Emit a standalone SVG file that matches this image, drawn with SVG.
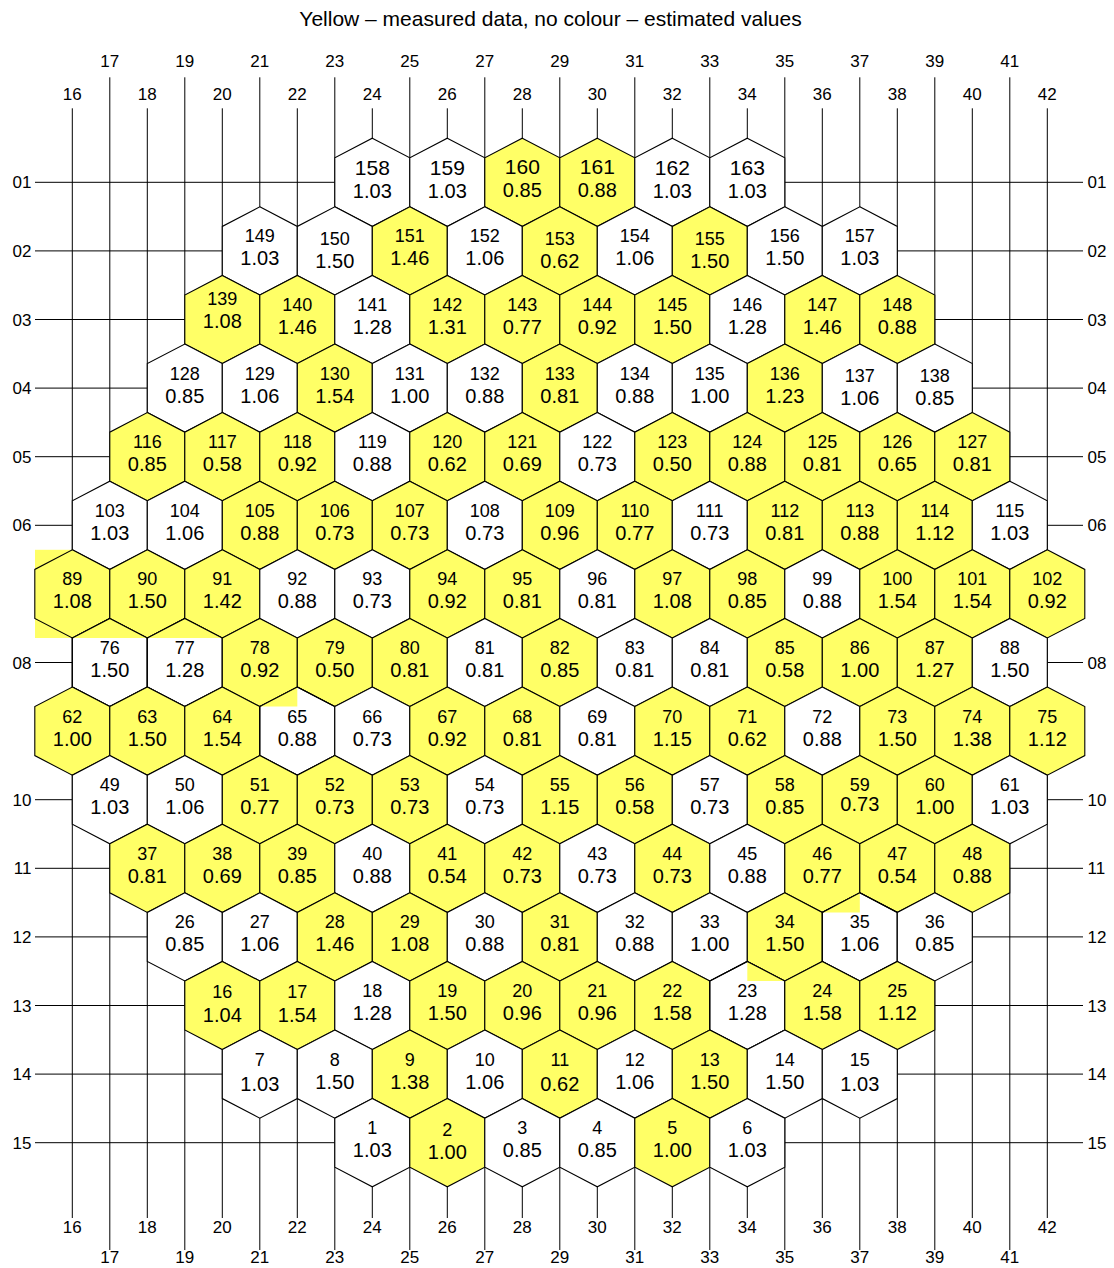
<svg xmlns="http://www.w3.org/2000/svg" xmlns:xlink="http://www.w3.org/1999/xlink" width="1114" height="1268" viewBox="0 0 1114 1268">
<style>
.h{stroke:#000;stroke-width:1.1}
.w{fill:#fff}
.y{fill:#ffff66}
.o{fill:none}
.a{fill:#ffff66;stroke:none}
.l{stroke:#000;stroke-width:1;fill:none}
text{font-family:"Liberation Sans",Arial,sans-serif;fill:#000;text-anchor:middle}
.i{font-size:18px}
.i1{font-size:21px}
.v{font-size:20px}
.ax{font-size:17px}
.t{font-size:21px}
.e{text-anchor:end}
.s{text-anchor:start}
</style>
<defs>
<path id="hx" d="M0,-44.1L37.5,-24.5L37.5,24.5L0,44.1L-37.5,24.5L-37.5,-24.5Z"/>
</defs>
<rect width="1114" height="1268" fill="#fff"/>
<text class="t" x="550.5" y="25.5">Yellow – measured data, no colour – estimated values</text>
<g id="connectors" class="l">
<path d="M109.8,77.3V1250M184.8,77.3V1250M259.8,77.3V1250M334.8,77.3V1250M409.8,77.3V1250M484.8,77.3V1250M559.8,77.3V1250M634.8,77.3V1250M709.8,77.3V1250M784.8,77.3V1250M859.8,77.3V1250M934.8,77.3V1250M1009.8,77.3V1250"/>
<path d="M72.3,108.3V1218M147.3,108.3V1218M222.3,108.3V1218M297.3,108.3V1218M372.3,108.3V1218M447.3,108.3V1218M522.3,108.3V1218M597.3,108.3V1218M672.3,108.3V1218M747.3,108.3V1218M822.3,108.3V1218M897.3,108.3V1218M972.3,108.3V1218M1047.3,108.3V1218"/>
<path d="M35,182.3H1083M35,250.9H1083M35,319.5H1083M35,388.1H1083M35,456.7H1083M35,525.3H1083M35,662.5H1083M35,799.7H1083M35,868.3H1083M35,936.9H1083M35,1005.5H1083M35,1074.1H1083M35,1142.7H1083"/>
</g>
<g id="axis-labels" class="ax">
<text x="109.8" y="67">17</text><text x="184.8" y="67">19</text><text x="259.8" y="67">21</text><text x="334.8" y="67">23</text><text x="409.8" y="67">25</text><text x="484.8" y="67">27</text><text x="559.8" y="67">29</text><text x="634.8" y="67">31</text><text x="709.8" y="67">33</text><text x="784.8" y="67">35</text><text x="859.8" y="67">37</text><text x="934.8" y="67">39</text><text x="1009.8" y="67">41</text>
<text x="72.3" y="99.5">16</text><text x="147.3" y="99.5">18</text><text x="222.3" y="99.5">20</text><text x="297.3" y="99.5">22</text><text x="372.3" y="99.5">24</text><text x="447.3" y="99.5">26</text><text x="522.3" y="99.5">28</text><text x="597.3" y="99.5">30</text><text x="672.3" y="99.5">32</text><text x="747.3" y="99.5">34</text><text x="822.3" y="99.5">36</text><text x="897.3" y="99.5">38</text><text x="972.3" y="99.5">40</text><text x="1047.3" y="99.5">42</text>
<text x="72.3" y="1233">16</text><text x="147.3" y="1233">18</text><text x="222.3" y="1233">20</text><text x="297.3" y="1233">22</text><text x="372.3" y="1233">24</text><text x="447.3" y="1233">26</text><text x="522.3" y="1233">28</text><text x="597.3" y="1233">30</text><text x="672.3" y="1233">32</text><text x="747.3" y="1233">34</text><text x="822.3" y="1233">36</text><text x="897.3" y="1233">38</text><text x="972.3" y="1233">40</text><text x="1047.3" y="1233">42</text>
<text x="109.8" y="1263">17</text><text x="184.8" y="1263">19</text><text x="259.8" y="1263">21</text><text x="334.8" y="1263">23</text><text x="409.8" y="1263">25</text><text x="484.8" y="1263">27</text><text x="559.8" y="1263">29</text><text x="634.8" y="1263">31</text><text x="709.8" y="1263">33</text><text x="784.8" y="1263">35</text><text x="859.8" y="1263">37</text><text x="934.8" y="1263">39</text><text x="1009.8" y="1263">41</text>
<g class="e"><text class="e" x="31.5" y="188.3">01</text><text class="e" x="31.5" y="256.9">02</text><text class="e" x="31.5" y="325.5">03</text><text class="e" x="31.5" y="394.1">04</text><text class="e" x="31.5" y="462.7">05</text><text class="e" x="31.5" y="531.3">06</text><text class="e" x="31.5" y="668.5">08</text><text class="e" x="31.5" y="805.7">10</text><text class="e" x="31.5" y="874.3">11</text><text class="e" x="31.5" y="942.9">12</text><text class="e" x="31.5" y="1011.5">13</text><text class="e" x="31.5" y="1080.1">14</text><text class="e" x="31.5" y="1148.7">15</text></g>
<g><text class="s" x="1087.5" y="188.3">01</text><text class="s" x="1087.5" y="256.9">02</text><text class="s" x="1087.5" y="325.5">03</text><text class="s" x="1087.5" y="394.1">04</text><text class="s" x="1087.5" y="462.7">05</text><text class="s" x="1087.5" y="531.3">06</text><text class="s" x="1087.5" y="668.5">08</text><text class="s" x="1087.5" y="805.7">10</text><text class="s" x="1087.5" y="874.3">11</text><text class="s" x="1087.5" y="942.9">12</text><text class="s" x="1087.5" y="1011.5">13</text><text class="s" x="1087.5" y="1080.1">14</text><text class="s" x="1087.5" y="1148.7">15</text></g>
</g>
<rect class="a" x="35" y="549.8" width="37.3" height="88.2"/>
<g id="cells">
<g id="h158" transform="translate(372.3,182.3)"><use href="#hx" class="h w"/><text class="i1" y="-7">158</text><text class="v" y="16">1.03</text></g>
<g id="h159" transform="translate(447.3,182.3)"><use href="#hx" class="h w"/><text class="i1" y="-7">159</text><text class="v" y="16">1.03</text></g>
<g id="h160" transform="translate(522.3,182.3)"><use href="#hx" class="h y"/><text class="i1" y="-8">160</text><text class="v" y="14.5">0.85</text></g>
<g id="h161" transform="translate(597.3,182.3)"><use href="#hx" class="h y"/><text class="i1" y="-8">161</text><text class="v" y="14.5">0.88</text></g>
<g id="h162" transform="translate(672.3,182.3)"><use href="#hx" class="h w"/><text class="i1" y="-7">162</text><text class="v" y="16">1.03</text></g>
<g id="h163" transform="translate(747.3,182.3)"><use href="#hx" class="h w"/><text class="i1" y="-7">163</text><text class="v" y="16">1.03</text></g>

<g id="h149" transform="translate(259.8,250.9)"><use href="#hx" class="h w"/><text class="i" y="-8.5">149</text><text class="v" y="14.5">1.03</text></g>
<g id="h150" transform="translate(334.8,250.9)"><use href="#hx" class="h w"/><text class="i" y="-6">150</text><text class="v" y="17">1.50</text></g>
<g id="h151" transform="translate(409.8,250.9)"><use href="#hx" class="h y"/><text class="i" y="-8.5">151</text><text class="v" y="14.5">1.46</text></g>
<g id="h152" transform="translate(484.8,250.9)"><use href="#hx" class="h w"/><text class="i" y="-8.5">152</text><text class="v" y="14.5">1.06</text></g>
<g id="h153" transform="translate(559.8,250.9)"><use href="#hx" class="h y"/><text class="i" y="-6">153</text><text class="v" y="17">0.62</text></g>
<g id="h154" transform="translate(634.8,250.9)"><use href="#hx" class="h w"/><text class="i" y="-8.5">154</text><text class="v" y="14.5">1.06</text></g>
<g id="h155" transform="translate(709.8,250.9)"><use href="#hx" class="h y"/><text class="i" y="-6">155</text><text class="v" y="17">1.50</text></g>
<g id="h156" transform="translate(784.8,250.9)"><use href="#hx" class="h w"/><text class="i" y="-8.5">156</text><text class="v" y="14.5">1.50</text></g>
<g id="h157" transform="translate(859.8,250.9)"><use href="#hx" class="h w"/><text class="i" y="-8.5">157</text><text class="v" y="14.5">1.03</text></g>

<g id="h139" transform="translate(222.3,319.5)"><use href="#hx" class="h y"/><text class="i" y="-15">139</text><text class="v" y="8">1.08</text></g>
<g id="h140" transform="translate(297.3,319.5)"><use href="#hx" class="h y"/><text class="i" y="-8.5">140</text><text class="v" y="14.5">1.46</text></g>
<g id="h141" transform="translate(372.3,319.5)"><use href="#hx" class="h w"/><text class="i" y="-8.5">141</text><text class="v" y="14.5">1.28</text></g>
<g id="h142" transform="translate(447.3,319.5)"><use href="#hx" class="h y"/><text class="i" y="-8.5">142</text><text class="v" y="14.5">1.31</text></g>
<g id="h143" transform="translate(522.3,319.5)"><use href="#hx" class="h y"/><text class="i" y="-8.5">143</text><text class="v" y="14.5">0.77</text></g>
<g id="h144" transform="translate(597.3,319.5)"><use href="#hx" class="h y"/><text class="i" y="-8.5">144</text><text class="v" y="14.5">0.92</text></g>
<g id="h145" transform="translate(672.3,319.5)"><use href="#hx" class="h y"/><text class="i" y="-8.5">145</text><text class="v" y="14.5">1.50</text></g>
<g id="h146" transform="translate(747.3,319.5)"><use href="#hx" class="h w"/><text class="i" y="-8.5">146</text><text class="v" y="14.5">1.28</text></g>
<g id="h147" transform="translate(822.3,319.5)"><use href="#hx" class="h y"/><text class="i" y="-8.5">147</text><text class="v" y="14.5">1.46</text></g>
<g id="h148" transform="translate(897.3,319.5)"><use href="#hx" class="h y"/><text class="i" y="-8.5">148</text><text class="v" y="14.5">0.88</text></g>

<g id="h128" transform="translate(184.8,388.1)"><use href="#hx" class="h w"/><text class="i" y="-8.5">128</text><text class="v" y="14.5">0.85</text></g>
<g id="h129" transform="translate(259.8,388.1)"><use href="#hx" class="h w"/><text class="i" y="-8.5">129</text><text class="v" y="14.5">1.06</text></g>
<g id="h130" transform="translate(334.8,388.1)"><use href="#hx" class="h y"/><text class="i" y="-8.5">130</text><text class="v" y="14.5">1.54</text></g>
<g id="h131" transform="translate(409.8,388.1)"><use href="#hx" class="h w"/><text class="i" y="-8.5">131</text><text class="v" y="14.5">1.00</text></g>
<g id="h132" transform="translate(484.8,388.1)"><use href="#hx" class="h w"/><text class="i" y="-8.5">132</text><text class="v" y="14.5">0.88</text></g>
<g id="h133" transform="translate(559.8,388.1)"><use href="#hx" class="h y"/><text class="i" y="-8.5">133</text><text class="v" y="14.5">0.81</text></g>
<g id="h134" transform="translate(634.8,388.1)"><use href="#hx" class="h w"/><text class="i" y="-8.5">134</text><text class="v" y="14.5">0.88</text></g>
<g id="h135" transform="translate(709.8,388.1)"><use href="#hx" class="h w"/><text class="i" y="-8.5">135</text><text class="v" y="14.5">1.00</text></g>
<g id="h136" transform="translate(784.8,388.1)"><use href="#hx" class="h y"/><text class="i" y="-8.5">136</text><text class="v" y="14.5">1.23</text></g>
<g id="h137" transform="translate(859.8,388.1)"><use href="#hx" class="h w"/><text class="i" y="-6">137</text><text class="v" y="17">1.06</text></g>
<g id="h138" transform="translate(934.8,388.1)"><use href="#hx" class="h w"/><text class="i" y="-6">138</text><text class="v" y="17">0.85</text></g>

<g id="h116" transform="translate(147.3,456.7)"><use href="#hx" class="h y"/><text class="i" y="-8.5">116</text><text class="v" y="14.5">0.85</text></g>
<g id="h117" transform="translate(222.3,456.7)"><use href="#hx" class="h y"/><text class="i" y="-8.5">117</text><text class="v" y="14.5">0.58</text></g>
<g id="h118" transform="translate(297.3,456.7)"><use href="#hx" class="h y"/><text class="i" y="-8.5">118</text><text class="v" y="14.5">0.92</text></g>
<g id="h119" transform="translate(372.3,456.7)"><use href="#hx" class="h w"/><text class="i" y="-8.5">119</text><text class="v" y="14.5">0.88</text></g>
<g id="h120" transform="translate(447.3,456.7)"><use href="#hx" class="h y"/><text class="i" y="-8.5">120</text><text class="v" y="14.5">0.62</text></g>
<g id="h121" transform="translate(522.3,456.7)"><use href="#hx" class="h y"/><text class="i" y="-8.5">121</text><text class="v" y="14.5">0.69</text></g>
<g id="h122" transform="translate(597.3,456.7)"><use href="#hx" class="h w"/><text class="i" y="-8.5">122</text><text class="v" y="14.5">0.73</text></g>
<g id="h123" transform="translate(672.3,456.7)"><use href="#hx" class="h y"/><text class="i" y="-8.5">123</text><text class="v" y="14.5">0.50</text></g>
<g id="h124" transform="translate(747.3,456.7)"><use href="#hx" class="h y"/><text class="i" y="-8.5">124</text><text class="v" y="14.5">0.88</text></g>
<g id="h125" transform="translate(822.3,456.7)"><use href="#hx" class="h y"/><text class="i" y="-8.5">125</text><text class="v" y="14.5">0.81</text></g>
<g id="h126" transform="translate(897.3,456.7)"><use href="#hx" class="h y"/><text class="i" y="-8.5">126</text><text class="v" y="14.5">0.65</text></g>
<g id="h127" transform="translate(972.3,456.7)"><use href="#hx" class="h y"/><text class="i" y="-8.5">127</text><text class="v" y="14.5">0.81</text></g>

<g id="h103" transform="translate(109.8,525.3)"><use href="#hx" class="h w"/><text class="i" y="-8.5">103</text><text class="v" y="14.5">1.03</text></g>
<g id="h104" transform="translate(184.8,525.3)"><use href="#hx" class="h w"/><text class="i" y="-8.5">104</text><text class="v" y="14.5">1.06</text></g>
<g id="h105" transform="translate(259.8,525.3)"><use href="#hx" class="h y"/><text class="i" y="-8.5">105</text><text class="v" y="14.5">0.88</text></g>
<g id="h106" transform="translate(334.8,525.3)"><use href="#hx" class="h y"/><text class="i" y="-8.5">106</text><text class="v" y="14.5">0.73</text></g>
<g id="h107" transform="translate(409.8,525.3)"><use href="#hx" class="h y"/><text class="i" y="-8.5">107</text><text class="v" y="14.5">0.73</text></g>
<g id="h108" transform="translate(484.8,525.3)"><use href="#hx" class="h w"/><text class="i" y="-8.5">108</text><text class="v" y="14.5">0.73</text></g>
<g id="h109" transform="translate(559.8,525.3)"><use href="#hx" class="h y"/><text class="i" y="-8.5">109</text><text class="v" y="14.5">0.96</text></g>
<g id="h110" transform="translate(634.8,525.3)"><use href="#hx" class="h y"/><text class="i" y="-8.5">110</text><text class="v" y="14.5">0.77</text></g>
<g id="h111" transform="translate(709.8,525.3)"><use href="#hx" class="h w"/><text class="i" y="-8.5">111</text><text class="v" y="14.5">0.73</text></g>
<g id="h112" transform="translate(784.8,525.3)"><use href="#hx" class="h y"/><text class="i" y="-8.5">112</text><text class="v" y="14.5">0.81</text></g>
<g id="h113" transform="translate(859.8,525.3)"><use href="#hx" class="h y"/><text class="i" y="-8.5">113</text><text class="v" y="14.5">0.88</text></g>
<g id="h114" transform="translate(934.8,525.3)"><use href="#hx" class="h y"/><text class="i" y="-8.5">114</text><text class="v" y="14.5">1.12</text></g>
<g id="h115" transform="translate(1009.8,525.3)"><use href="#hx" class="h w"/><text class="i" y="-8.5">115</text><text class="v" y="14.5">1.03</text></g>

<g id="h89" transform="translate(72.3,593.9)"><use href="#hx" class="h y"/><text class="i" y="-8.5">89</text><text class="v" y="14.5">1.08</text></g>
<g id="h90" transform="translate(147.3,593.9)"><use href="#hx" class="h y"/><text class="i" y="-8.5">90</text><text class="v" y="14.5">1.50</text></g>
<g id="h91" transform="translate(222.3,593.9)"><use href="#hx" class="h y"/><text class="i" y="-8.5">91</text><text class="v" y="14.5">1.42</text></g>
<g id="h92" transform="translate(297.3,593.9)"><use href="#hx" class="h w"/><text class="i" y="-8.5">92</text><text class="v" y="14.5">0.88</text></g>
<g id="h93" transform="translate(372.3,593.9)"><use href="#hx" class="h w"/><text class="i" y="-8.5">93</text><text class="v" y="14.5">0.73</text></g>
<g id="h94" transform="translate(447.3,593.9)"><use href="#hx" class="h y"/><text class="i" y="-8.5">94</text><text class="v" y="14.5">0.92</text></g>
<g id="h95" transform="translate(522.3,593.9)"><use href="#hx" class="h y"/><text class="i" y="-8.5">95</text><text class="v" y="14.5">0.81</text></g>
<g id="h96" transform="translate(597.3,593.9)"><use href="#hx" class="h w"/><text class="i" y="-8.5">96</text><text class="v" y="14.5">0.81</text></g>
<g id="h97" transform="translate(672.3,593.9)"><use href="#hx" class="h y"/><text class="i" y="-8.5">97</text><text class="v" y="14.5">1.08</text></g>
<g id="h98" transform="translate(747.3,593.9)"><use href="#hx" class="h y"/><text class="i" y="-8.5">98</text><text class="v" y="14.5">0.85</text></g>
<g id="h99" transform="translate(822.3,593.9)"><use href="#hx" class="h w"/><text class="i" y="-8.5">99</text><text class="v" y="14.5">0.88</text></g>
<g id="h100" transform="translate(897.3,593.9)"><use href="#hx" class="h y"/><text class="i" y="-8.5">100</text><text class="v" y="14.5">1.54</text></g>
<g id="h101" transform="translate(972.3,593.9)"><use href="#hx" class="h y"/><text class="i" y="-8.5">101</text><text class="v" y="14.5">1.54</text></g>
<g id="h102" transform="translate(1047.3,593.9)"><use href="#hx" class="h y"/><text class="i" y="-8.5">102</text><text class="v" y="14.5">0.92</text></g>

<g id="h76" transform="translate(109.8,662.5)"><use href="#hx" class="h w"/><polygon class="a" points="-37.5,-24.5 0,-44.1 37.5,-24.5"/><use href="#hx" class="h o"/><text class="i" y="-8.5">76</text><text class="v" y="14.5">1.50</text></g>
<g id="h77" transform="translate(184.8,662.5)"><use href="#hx" class="h w"/><polygon class="a" points="-37.5,-24.5 0,-44.1 37.5,-24.5"/><use href="#hx" class="h o"/><text class="i" y="-8.5">77</text><text class="v" y="14.5">1.28</text></g>
<g id="h78" transform="translate(259.8,662.5)"><use href="#hx" class="h y"/><text class="i" y="-8.5">78</text><text class="v" y="14.5">0.92</text></g>
<g id="h79" transform="translate(334.8,662.5)"><use href="#hx" class="h y"/><text class="i" y="-8.5">79</text><text class="v" y="14.5">0.50</text></g>
<g id="h80" transform="translate(409.8,662.5)"><use href="#hx" class="h y"/><text class="i" y="-8.5">80</text><text class="v" y="14.5">0.81</text></g>
<g id="h81" transform="translate(484.8,662.5)"><use href="#hx" class="h w"/><text class="i" y="-8.5">81</text><text class="v" y="14.5">0.81</text></g>
<g id="h82" transform="translate(559.8,662.5)"><use href="#hx" class="h y"/><text class="i" y="-8.5">82</text><text class="v" y="14.5">0.85</text></g>
<g id="h83" transform="translate(634.8,662.5)"><use href="#hx" class="h w"/><text class="i" y="-8.5">83</text><text class="v" y="14.5">0.81</text></g>
<g id="h84" transform="translate(709.8,662.5)"><use href="#hx" class="h w"/><text class="i" y="-8.5">84</text><text class="v" y="14.5">0.81</text></g>
<g id="h85" transform="translate(784.8,662.5)"><use href="#hx" class="h y"/><text class="i" y="-8.5">85</text><text class="v" y="14.5">0.58</text></g>
<g id="h86" transform="translate(859.8,662.5)"><use href="#hx" class="h y"/><text class="i" y="-8.5">86</text><text class="v" y="14.5">1.00</text></g>
<g id="h87" transform="translate(934.8,662.5)"><use href="#hx" class="h y"/><text class="i" y="-8.5">87</text><text class="v" y="14.5">1.27</text></g>
<g id="h88" transform="translate(1009.8,662.5)"><use href="#hx" class="h w"/><text class="i" y="-8.5">88</text><text class="v" y="14.5">1.50</text></g>

<g id="h62" transform="translate(72.3,731.1)"><use href="#hx" class="h y"/><text class="i" y="-8.5">62</text><text class="v" y="14.5">1.00</text></g>
<g id="h63" transform="translate(147.3,731.1)"><use href="#hx" class="h y"/><text class="i" y="-8.5">63</text><text class="v" y="14.5">1.50</text></g>
<g id="h64" transform="translate(222.3,731.1)"><use href="#hx" class="h y"/><text class="i" y="-8.5">64</text><text class="v" y="14.5">1.54</text></g>
<g id="h65" transform="translate(297.3,731.1)"><use href="#hx" class="h w"/><polygon class="a" points="-37.5,-24.5 0,-44.1 0,-24.5"/><use href="#hx" class="h o"/><text class="i" y="-8.5">65</text><text class="v" y="14.5">0.88</text></g>
<g id="h66" transform="translate(372.3,731.1)"><use href="#hx" class="h w"/><text class="i" y="-8.5">66</text><text class="v" y="14.5">0.73</text></g>
<g id="h67" transform="translate(447.3,731.1)"><use href="#hx" class="h y"/><text class="i" y="-8.5">67</text><text class="v" y="14.5">0.92</text></g>
<g id="h68" transform="translate(522.3,731.1)"><use href="#hx" class="h y"/><text class="i" y="-8.5">68</text><text class="v" y="14.5">0.81</text></g>
<g id="h69" transform="translate(597.3,731.1)"><use href="#hx" class="h w"/><text class="i" y="-8.5">69</text><text class="v" y="14.5">0.81</text></g>
<g id="h70" transform="translate(672.3,731.1)"><use href="#hx" class="h y"/><text class="i" y="-8.5">70</text><text class="v" y="14.5">1.15</text></g>
<g id="h71" transform="translate(747.3,731.1)"><use href="#hx" class="h y"/><text class="i" y="-8.5">71</text><text class="v" y="14.5">0.62</text></g>
<g id="h72" transform="translate(822.3,731.1)"><use href="#hx" class="h w"/><text class="i" y="-8.5">72</text><text class="v" y="14.5">0.88</text></g>
<g id="h73" transform="translate(897.3,731.1)"><use href="#hx" class="h y"/><text class="i" y="-8.5">73</text><text class="v" y="14.5">1.50</text></g>
<g id="h74" transform="translate(972.3,731.1)"><use href="#hx" class="h y"/><text class="i" y="-8.5">74</text><text class="v" y="14.5">1.38</text></g>
<g id="h75" transform="translate(1047.3,731.1)"><use href="#hx" class="h y"/><text class="i" y="-8.5">75</text><text class="v" y="14.5">1.12</text></g>

<g id="h49" transform="translate(109.8,799.7)"><use href="#hx" class="h w"/><text class="i" y="-8.5">49</text><text class="v" y="14.5">1.03</text></g>
<g id="h50" transform="translate(184.8,799.7)"><use href="#hx" class="h w"/><text class="i" y="-8.5">50</text><text class="v" y="14.5">1.06</text></g>
<g id="h51" transform="translate(259.8,799.7)"><use href="#hx" class="h y"/><text class="i" y="-8.5">51</text><text class="v" y="14.5">0.77</text></g>
<g id="h52" transform="translate(334.8,799.7)"><use href="#hx" class="h y"/><text class="i" y="-8.5">52</text><text class="v" y="14.5">0.73</text></g>
<g id="h53" transform="translate(409.8,799.7)"><use href="#hx" class="h y"/><text class="i" y="-8.5">53</text><text class="v" y="14.5">0.73</text></g>
<g id="h54" transform="translate(484.8,799.7)"><use href="#hx" class="h w"/><text class="i" y="-8.5">54</text><text class="v" y="14.5">0.73</text></g>
<g id="h55" transform="translate(559.8,799.7)"><use href="#hx" class="h y"/><text class="i" y="-8.5">55</text><text class="v" y="14.5">1.15</text></g>
<g id="h56" transform="translate(634.8,799.7)"><use href="#hx" class="h y"/><text class="i" y="-8.5">56</text><text class="v" y="14.5">0.58</text></g>
<g id="h57" transform="translate(709.8,799.7)"><use href="#hx" class="h w"/><text class="i" y="-8.5">57</text><text class="v" y="14.5">0.73</text></g>
<g id="h58" transform="translate(784.8,799.7)"><use href="#hx" class="h y"/><text class="i" y="-8.5">58</text><text class="v" y="14.5">0.85</text></g>
<g id="h59" transform="translate(859.8,799.7)"><use href="#hx" class="h y"/><text class="i" y="-8.5">59</text><text class="v" y="11.5">0.73</text></g>
<g id="h60" transform="translate(934.8,799.7)"><use href="#hx" class="h y"/><text class="i" y="-8.5">60</text><text class="v" y="14.5">1.00</text></g>
<g id="h61" transform="translate(1009.8,799.7)"><use href="#hx" class="h w"/><text class="i" y="-8.5">61</text><text class="v" y="14.5">1.03</text></g>

<g id="h37" transform="translate(147.3,868.3)"><use href="#hx" class="h y"/><text class="i" y="-8.5">37</text><text class="v" y="14.5">0.81</text></g>
<g id="h38" transform="translate(222.3,868.3)"><use href="#hx" class="h y"/><text class="i" y="-8.5">38</text><text class="v" y="14.5">0.69</text></g>
<g id="h39" transform="translate(297.3,868.3)"><use href="#hx" class="h y"/><text class="i" y="-8.5">39</text><text class="v" y="14.5">0.85</text></g>
<g id="h40" transform="translate(372.3,868.3)"><use href="#hx" class="h w"/><text class="i" y="-8.5">40</text><text class="v" y="14.5">0.88</text></g>
<g id="h41" transform="translate(447.3,868.3)"><use href="#hx" class="h y"/><text class="i" y="-8.5">41</text><text class="v" y="14.5">0.54</text></g>
<g id="h42" transform="translate(522.3,868.3)"><use href="#hx" class="h y"/><text class="i" y="-8.5">42</text><text class="v" y="14.5">0.73</text></g>
<g id="h43" transform="translate(597.3,868.3)"><use href="#hx" class="h w"/><text class="i" y="-8.5">43</text><text class="v" y="14.5">0.73</text></g>
<g id="h44" transform="translate(672.3,868.3)"><use href="#hx" class="h y"/><text class="i" y="-8.5">44</text><text class="v" y="14.5">0.73</text></g>
<g id="h45" transform="translate(747.3,868.3)"><use href="#hx" class="h w"/><text class="i" y="-8.5">45</text><text class="v" y="14.5">0.88</text></g>
<g id="h46" transform="translate(822.3,868.3)"><use href="#hx" class="h y"/><text class="i" y="-8.5">46</text><text class="v" y="14.5">0.77</text></g>
<g id="h47" transform="translate(897.3,868.3)"><use href="#hx" class="h y"/><text class="i" y="-8.5">47</text><text class="v" y="14.5">0.54</text></g>
<g id="h48" transform="translate(972.3,868.3)"><use href="#hx" class="h y"/><text class="i" y="-8.5">48</text><text class="v" y="14.5">0.88</text></g>

<g id="h26" transform="translate(184.8,936.9)"><use href="#hx" class="h w"/><text class="i" y="-8.5">26</text><text class="v" y="14.5">0.85</text></g>
<g id="h27" transform="translate(259.8,936.9)"><use href="#hx" class="h w"/><text class="i" y="-8.5">27</text><text class="v" y="14.5">1.06</text></g>
<g id="h28" transform="translate(334.8,936.9)"><use href="#hx" class="h y"/><text class="i" y="-8.5">28</text><text class="v" y="14.5">1.46</text></g>
<g id="h29" transform="translate(409.8,936.9)"><use href="#hx" class="h y"/><text class="i" y="-8.5">29</text><text class="v" y="14.5">1.08</text></g>
<g id="h30" transform="translate(484.8,936.9)"><use href="#hx" class="h w"/><text class="i" y="-8.5">30</text><text class="v" y="14.5">0.88</text></g>
<g id="h31" transform="translate(559.8,936.9)"><use href="#hx" class="h y"/><text class="i" y="-8.5">31</text><text class="v" y="14.5">0.81</text></g>
<g id="h32" transform="translate(634.8,936.9)"><use href="#hx" class="h w"/><text class="i" y="-8.5">32</text><text class="v" y="14.5">0.88</text></g>
<g id="h33" transform="translate(709.8,936.9)"><use href="#hx" class="h w"/><text class="i" y="-8.5">33</text><text class="v" y="14.5">1.00</text></g>
<g id="h34" transform="translate(784.8,936.9)"><use href="#hx" class="h y"/><text class="i" y="-8.5">34</text><text class="v" y="14.5">1.50</text></g>
<g id="h35" transform="translate(859.8,936.9)"><use href="#hx" class="h w"/><polygon class="a" points="-37.5,-24.5 0,-44.1 0,-24.5"/><use href="#hx" class="h o"/><text class="i" y="-8.5">35</text><text class="v" y="14.5">1.06</text></g>
<g id="h36" transform="translate(934.8,936.9)"><use href="#hx" class="h w"/><text class="i" y="-8.5">36</text><text class="v" y="14.5">0.85</text></g>

<g id="h16" transform="translate(222.3,1005.5)"><use href="#hx" class="h y"/><text class="i" y="-8">16</text><text class="v" y="16.5">1.04</text></g>
<g id="h17" transform="translate(297.3,1005.5)"><use href="#hx" class="h y"/><text class="i" y="-8">17</text><text class="v" y="16.5">1.54</text></g>
<g id="h18" transform="translate(372.3,1005.5)"><use href="#hx" class="h w"/><text class="i" y="-8.5">18</text><text class="v" y="14.5">1.28</text></g>
<g id="h19" transform="translate(447.3,1005.5)"><use href="#hx" class="h y"/><text class="i" y="-8.5">19</text><text class="v" y="14.5">1.50</text></g>
<g id="h20" transform="translate(522.3,1005.5)"><use href="#hx" class="h y"/><text class="i" y="-8.5">20</text><text class="v" y="14.5">0.96</text></g>
<g id="h21" transform="translate(597.3,1005.5)"><use href="#hx" class="h y"/><text class="i" y="-8.5">21</text><text class="v" y="14.5">0.96</text></g>
<g id="h22" transform="translate(672.3,1005.5)"><use href="#hx" class="h y"/><text class="i" y="-8.5">22</text><text class="v" y="14.5">1.58</text></g>
<g id="h23" transform="translate(747.3,1005.5)"><use href="#hx" class="h w"/><polygon class="a" points="0,-44.1 37.5,-24.5 0,-24.5"/><use href="#hx" class="h o"/><text class="i" y="-8.5">23</text><text class="v" y="14.5">1.28</text></g>
<g id="h24" transform="translate(822.3,1005.5)"><use href="#hx" class="h y"/><text class="i" y="-8.5">24</text><text class="v" y="14.5">1.58</text></g>
<g id="h25" transform="translate(897.3,1005.5)"><use href="#hx" class="h y"/><text class="i" y="-8.5">25</text><text class="v" y="14.5">1.12</text></g>

<g id="h7" transform="translate(259.8,1074.1)"><use href="#hx" class="h w"/><text class="i" y="-8.5">7</text><text class="v" y="16.5">1.03</text></g>
<g id="h8" transform="translate(334.8,1074.1)"><use href="#hx" class="h w"/><text class="i" y="-8.5">8</text><text class="v" y="14.5">1.50</text></g>
<g id="h9" transform="translate(409.8,1074.1)"><use href="#hx" class="h y"/><text class="i" y="-8.5">9</text><text class="v" y="14.5">1.38</text></g>
<g id="h10" transform="translate(484.8,1074.1)"><use href="#hx" class="h w"/><text class="i" y="-8.5">10</text><text class="v" y="14.5">1.06</text></g>
<g id="h11" transform="translate(559.8,1074.1)"><use href="#hx" class="h y"/><text class="i" y="-8.5">11</text><text class="v" y="16.5">0.62</text></g>
<g id="h12" transform="translate(634.8,1074.1)"><use href="#hx" class="h w"/><text class="i" y="-8.5">12</text><text class="v" y="14.5">1.06</text></g>
<g id="h13" transform="translate(709.8,1074.1)"><use href="#hx" class="h y"/><text class="i" y="-8.5">13</text><text class="v" y="14.5">1.50</text></g>
<g id="h14" transform="translate(784.8,1074.1)"><use href="#hx" class="h w"/><text class="i" y="-8.5">14</text><text class="v" y="14.5">1.50</text></g>
<g id="h15" transform="translate(859.8,1074.1)"><use href="#hx" class="h w"/><text class="i" y="-8.5">15</text><text class="v" y="16.5">1.03</text></g>

<g id="h1" transform="translate(372.3,1142.7)"><use href="#hx" class="h w"/><text class="i" y="-8.5">1</text><text class="v" y="14.5">1.03</text></g>
<g id="h2" transform="translate(447.3,1142.7)"><use href="#hx" class="h y"/><text class="i" y="-6.5">2</text><text class="v" y="16.5">1.00</text></g>
<g id="h3" transform="translate(522.3,1142.7)"><use href="#hx" class="h w"/><text class="i" y="-8.5">3</text><text class="v" y="14.5">0.85</text></g>
<g id="h4" transform="translate(597.3,1142.7)"><use href="#hx" class="h w"/><text class="i" y="-8.5">4</text><text class="v" y="14.5">0.85</text></g>
<g id="h5" transform="translate(672.3,1142.7)"><use href="#hx" class="h y"/><text class="i" y="-8.5">5</text><text class="v" y="14.5">1.00</text></g>
<g id="h6" transform="translate(747.3,1142.7)"><use href="#hx" class="h w"/><text class="i" y="-8.5">6</text><text class="v" y="14.5">1.03</text></g>
</g>
</svg>
